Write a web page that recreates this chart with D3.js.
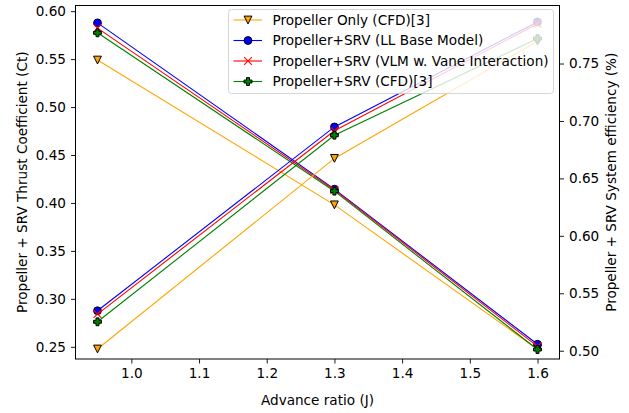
<!DOCTYPE html>
<html>
<head>
<meta charset="utf-8">
<script src="https://cdn.jsdelivr.net/npm/d3@7"></script>
<style>
  body { margin: 0; background: #fff; }
  text { font-family: "DejaVu Sans", sans-serif; fill: #000; }
</style>
</head>
<body>
<div id="chart"></div>
<script>
// advance ratio
const advanceRatio = [0.95, 1.3, 1.6];

// thrust coefficient (left axis)
const ctPropOnlyCfd = [0.549, 0.398, 0.2475];
const ctLLBase = [0.5878, 0.4144, 0.2527];
const ctVLM = [0.5823, 0.4135, 0.2505];
const ctSrvCfd = [0.5774, 0.4123, 0.2472];

// system efficiency (right axis)
const effPropOnlyCfd = [0.5015, 0.6674, 0.7694];
const effLLBase = [0.5348, 0.6948, 0.7862];
const effVLM = [0.5319, 0.6915, 0.7846];
const effSrvCfd = [0.5252, 0.6876, 0.7717];

const seriesNames = ['Propeller Only (CFD)[3]', 'Propeller+SRV (LL Base Model)',
    'Propeller+SRV (VLM w. Vane Interaction)', 'Propeller+SRV (CFD)[3]'];
const xTicks = [1.0, 1.1, 1.2, 1.3, 1.4, 1.5, 1.6];
const yLeftTicks = [0.25, 0.30, 0.35, 0.40, 0.45, 0.50, 0.55, 0.60];
const yRightTicks = [0.50, 0.55, 0.60, 0.65, 0.70, 0.75];

const styles = [
    {color: 'orange', marker: 'v'},
    {color: 'blue', marker: 'o'},
    {color: 'red', marker: 'x'},
    {color: 'green', marker: 'P'}
];

const W = 629, H = 413;
const margin = {top: 5.5, right: 69.5, bottom: 54, left: 75.5};
const width = W - margin.left - margin.right, height = H - margin.top - margin.bottom;

const svg = d3.select('#chart').append('svg')
    .attr('width', W).attr('height', H);
const g = svg.append('g').attr('transform', `translate(${margin.left},${margin.top})`);

const xScale = d3.scaleLinear().domain([0.9175, 1.6325]).range([0, width]);
const yLeft = d3.scaleLinear().domain([0.2373, 0.6059]).range([height, 0]);
const yRight = d3.scaleLinear().domain([0.4928, 0.8005]).range([height, 0]);

const fs = 13.6;

// axes
const xAxis = g.append('g').attr('transform', `translate(0,${height})`)
    .call(d3.axisBottom(xScale).tickValues(xTicks).tickFormat(d3.format('.1f')).tickSizeOuter(0).tickSize(4.5).tickPadding(5));
const lAxis = g.append('g')
    .call(d3.axisLeft(yLeft).tickValues(yLeftTicks).tickFormat(d3.format('.2f')).tickSizeOuter(0).tickSize(4.5).tickPadding(5));
const rAxis = g.append('g').attr('transform', `translate(${width},0)`)
    .call(d3.axisRight(yRight).tickValues(yRightTicks).tickFormat(d3.format('.2f')).tickSizeOuter(0).tickSize(4.5).tickPadding(5));
[xAxis, lAxis, rAxis].forEach(a => {
    a.select('.domain').remove();
    a.selectAll('text').style('font-size', fs + 'px').style('font-family', '"DejaVu Sans", sans-serif').attr('fill', '#000');
    a.selectAll('line').attr('stroke', '#000').attr('stroke-width', 0.9);
});

// markers
function drawMarker(sel, kind, color, x, y) {
    const s = 3.9;
    if (kind === 'o') {
        sel.append('circle').attr('cx', x).attr('cy', y).attr('r', s)
            .attr('fill', color).attr('stroke', '#000').attr('stroke-width', 1);
    } else if (kind === 'v') {
        sel.append('path')
            .attr('d', `M${x - s},${y - s}L${x + s},${y - s}L${x},${y + s}Z`)
            .attr('fill', color).attr('stroke', '#000').attr('stroke-width', 1);
    } else if (kind === 'x') {
        sel.append('path')
            .attr('d', `M${x - s},${y - s}L${x + s},${y + s}M${x - s},${y + s}L${x + s},${y - s}`)
            .attr('stroke', color).attr('stroke-width', 1.1).attr('fill', 'none');
    } else if (kind === 'P') {
        const a = s, b = s / 2.6;
        sel.append('path')
            .attr('d', `M${x - b},${y - a}H${x + b}V${y - b}H${x + a}V${y + b}H${x + b}V${y + a}H${x - b}V${y + b}H${x - a}V${y - b}H${x - b}Z`)
            .attr('fill', color).attr('stroke', '#000').attr('stroke-width', 1);
    }
}

function drawSeries(values, yScale, st) {
    const pts = advanceRatio.map((x, i) => [xScale(x), yScale(values[i])]);
    const grp = g.append('g');
    grp.append('path').attr('d', d3.line()(pts))
        .attr('fill', 'none').attr('stroke', st.color).attr('stroke-width', 1.1);
    pts.forEach(p => drawMarker(grp, st.marker, st.color, p[0], p[1]));
}

[ctPropOnlyCfd, ctLLBase, ctVLM, ctSrvCfd].forEach((v, i) => drawSeries(v, yLeft, styles[i]));
[effPropOnlyCfd, effLLBase, effVLM, effSrvCfd].forEach((v, i) => drawSeries(v, yRight, styles[i]));

// frame
g.append('rect').attr('x', 0).attr('y', 0).attr('width', width).attr('height', height)
    .attr('fill', 'none').attr('stroke', '#000').attr('stroke-width', 1);

// axis labels
g.append('text').attr('x', width / 2).attr('y', height + 46).attr('text-anchor', 'middle')
    .style('font-size', fs + 'px').text('Advance ratio (J)');
g.append('text').attr('transform', `translate(${-48.5},${height / 2}) rotate(-90)`).attr('text-anchor', 'middle')
    .style('font-size', fs + 'px').text('Propeller + SRV Thrust Coefficient (Ct)');
g.append('text').attr('transform', `translate(${width + 56},${height / 2}) rotate(-90)`).attr('text-anchor', 'middle')
    .style('font-size', fs + 'px').text('Propeller + SRV System efficiency (%)');

// legend
const lg = svg.append('g').attr('transform', 'translate(228.5,9.5)');
lg.append('rect').attr('width', 325).attr('height', 84).attr('rx', 3)
    .attr('fill', 'rgba(255,255,255,0.8)').attr('stroke', 'rgba(204,204,204,0.8)').attr('stroke-width', 1);
seriesNames.forEach((name, i) => {
    const y = 10.5 + i * 20.5;
    lg.append('line').attr('x1', 5).attr('x2', 33.5).attr('y1', y).attr('y2', y)
        .attr('stroke', styles[i].color).attr('stroke-width', 1.1);
    drawMarker(lg, styles[i].marker, styles[i].color, 19.5, y);
    lg.append('text').attr('x', 44).attr('y', y).attr('dy', '0.35em')
        .style('font-size', fs + 'px').text(name);
});
</script>
</body>
</html>
